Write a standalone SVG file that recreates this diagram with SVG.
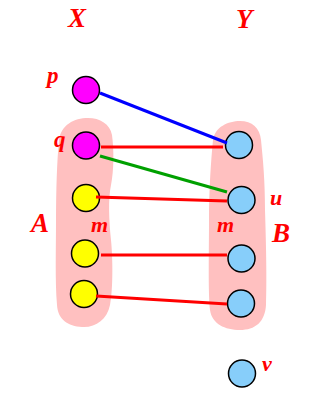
<svg xmlns="http://www.w3.org/2000/svg" width="335" height="400" viewBox="0 0 335 400">
<style>
.lbl{font-family:"Liberation Serif","Times New Roman",serif;font-weight:bold;font-style:italic;fill:#ff0000}
.big{font-size:27px}
.sm{font-size:23px}
.md{font-size:22px}
.blob{fill:#ffc0c0;stroke:none}
.n{stroke:#000;stroke-width:1.5}
.mg{fill:#ff00ff}
.yl{fill:#ffff00}
.bl{fill:#87cefa}
.e{stroke-width:3;fill:none}
</style>
<rect width="335" height="400" fill="#fff"/>
<g id="setA"><path class="blob" d="M88 118 C100 118 110 124 112 135 C114 150 114 170 111 185 C108 200 109 220 111 240 C113 260 113 290 110 305 C107 320 95 328 82 327 C68 326 58 320 57 305 C55 280 56 250 56 220 C56 190 57 160 59 140 C61 125 74 118 88 118 Z"/></g>
<g id="setB"><path class="blob" d="M240 121 C252 121 260 128 261 140 C263 160 265 180 265 210 C266 240 267 280 266 305 C265 322 255 330 240 330 C225 330 212 324 210 310 C208 290 209 250 209 220 C209 190 211 160 213 140 C215 127 228 121 240 121 Z"/></g>
<text class="lbl big" x="68" y="27">X</text>
<text class="lbl big" x="236" y="28">Y</text>
<text class="lbl big" x="31" y="232">A</text>
<text class="lbl big" x="272" y="242">B</text>
<text class="lbl md" x="91" y="232">m</text>
<text class="lbl md" x="217" y="232">m</text>
<g id="p"><circle class="n mg" cx="86" cy="90" r="13.5"/><text class="lbl sm" x="47" y="83">p</text></g>
<g id="q"><circle class="n mg" cx="86" cy="145.5" r="13.5"/><text class="lbl sm" x="54" y="147">q</text></g>
<g id="a1"><circle class="n yl" cx="86" cy="198" r="13.5"/></g>
<g id="a2"><circle class="n yl" cx="85" cy="253.5" r="13.5"/></g>
<g id="a3"><circle class="n yl" cx="84" cy="294" r="13.5"/></g>
<g id="b1"><circle class="n bl" cx="239" cy="145" r="13.5"/></g>
<g id="u"><circle class="n bl" cx="241.5" cy="200" r="13.5"/><text class="lbl md" x="270" y="205">u</text></g>
<g id="b3"><circle class="n bl" cx="241.5" cy="258.5" r="13.5"/></g>
<g id="b4"><circle class="n bl" cx="241" cy="303.5" r="13.5"/></g>
<g id="v"><circle class="n bl" cx="242" cy="373.5" r="13.5"/><text class="lbl md" x="262" y="371">v</text></g>
<g id="connectors">
<line class="e" x1="100" y1="93" x2="227" y2="143" stroke="#0000ff"/>
<line class="e" x1="101" y1="147" x2="223" y2="147" stroke="#ff0000"/>
<line class="e" x1="100" y1="156" x2="227" y2="192" stroke="#00a000"/>
<line class="e" x1="96" y1="197" x2="227" y2="201" stroke="#ff0000"/>
<line class="e" x1="101" y1="255" x2="227" y2="255" stroke="#ff0000"/>
<line class="e" x1="96" y1="296" x2="227" y2="304" stroke="#ff0000"/>
</g>
</svg>
